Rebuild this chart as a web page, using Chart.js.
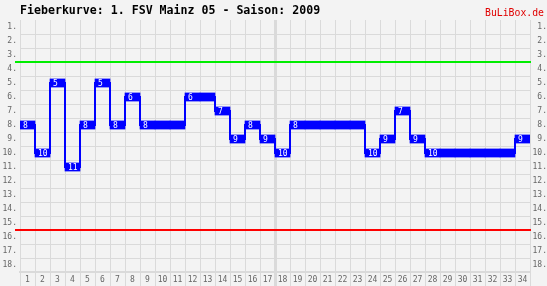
<!DOCTYPE html>
<html lang="de">
<head>
    <meta charset="UTF-8">
    <title>Fieberkurve 1. FSV Mainz 05</title>
    <style>
        body { margin: 0; background: #f3f3f3; }
        #wrap { width: 547px; height: 286px; }
    </style>
</head>
<body>
    <div id="wrap"><canvas id="myChart" width="547" height="286"></canvas></div>

    <script src="https://cdn.jsdelivr.net/npm/chart.js"></script>
    <script>
        // Spieltage und Tabellenplatz nach jedem Spieltag
        const spieltage = ['1','2','3','4','5','6','7','8','9','10','11','12','13','14','15','16','17',
                           '18','19','20','21','22','23','24','25','26','27','28','29','30','31','32','33','34'];
        const plaetze = [8,10,5,11,8,5,8,6,8,8,8,6,6,7,9,8,9,10,8,8,8,8,8,10,9,7,9,10,10,10,10,10,10,9];
        const platzLabels = ['1.','2.','3.','4.','5.','6.','7.','8.','9.','10.','11.','12.','13.','14.','15.','16.','17.','18.'];
        const grenzen = [3.5, 15.5];          // Europa / Abstieg
        const grenzFarben = ['#00ee00', '#ff0000'];
        const titel = 'Fieberkurve: 1. FSV Mainz 05 - Saison: 2009';

        const blau = '#0000ff';
        const gitter = '#dadada';
        const mono = '"DejaVu Sans Mono", monospace';

        const deko = {
            id: 'deko',
            beforeDatasetsDraw(chart) {
                const ctx = chart.ctx, area = chart.chartArea, y = chart.scales.y;
                ctx.save();
                grenzen.forEach((g, i) => {
                    const py = Math.round(y.getPixelForValue(g));
                    ctx.strokeStyle = grenzFarben[i];
                    ctx.lineWidth = 2;
                    ctx.beginPath();
                    ctx.moveTo(area.left - 5, py);
                    ctx.lineTo(area.right + 1, py);
                    ctx.stroke();
                });
                ctx.restore();
            },
            afterDatasetsDraw(chart) {
                const ctx = chart.ctx, x = chart.scales.x, y = chart.scales.y;
                const breite = x.getPixelForValue(1) - x.getPixelForValue(0);
                ctx.save();
                ctx.fillStyle = '#ffffff';
                ctx.font = '8px ' + mono;
                ctx.textBaseline = 'middle';
                plaetze.forEach((p, i) => {
                    if (i > 0 && plaetze[i - 1] === p) return;
                    ctx.fillText(String(p), x.getPixelForValue(i) - breite / 2 + 3, y.getPixelForValue(p) + 0.5);
                });
                // Titel und Logo
                ctx.textBaseline = 'alphabetic';
                ctx.fillStyle = '#000000';
                ctx.font = 'bold 11.6px ' + mono;
                ctx.fillText(titel, 20, 14);
                ctx.fillStyle = '#e00000';
                ctx.font = '9.8px ' + mono;
                ctx.textAlign = 'right';
                ctx.fillText('BuLiBox.de', 544, 16);
                ctx.restore();
            }
        };

        const ctx = document.getElementById('myChart').getContext('2d');
        new Chart(ctx, {
            data: {
                labels: spieltage,
                datasets: [
                    {
                        type: 'bar',
                        data: plaetze.map(p => [p - 0.29, p + 0.29]),
                        backgroundColor: blau,
                        barPercentage: 1,
                        categoryPercentage: 1,
                        yAxisID: 'y',
                        order: 0
                    },
                    {
                        type: 'line',
                        data: plaetze,
                        borderColor: blau,
                        borderWidth: 2,
                        pointRadius: 0,
                        stepped: 'middle',
                        yAxisID: 'y',
                        order: 1
                    }
                ]
            },
            options: {
                responsive: false,
                animation: false,
                layout: { padding: { top: 20, left: 0, right: 0, bottom: 0 } },
                plugins: { legend: { display: false }, tooltip: { enabled: false } },
                scales: {
                    x: {
                        type: 'category',
                        offset: true,
                        grid: {
                            offset: true,
                            color: gitter,
                            lineWidth: c => c.index === 17 ? 3 : 1,
                            tickLength: 14
                        },
                        border: { color: gitter, width: 2 },
                        ticks: { color: '#666', font: { family: mono, size: 8 }, padding: -11, maxRotation: 0, autoSkip: false },
                        afterFit: s => { s.height = 14; }
                    },
                    y: {
                        type: 'linear',
                        display: false,
                        min: 0.5,
                        max: 18.5,
                        reverse: true
                    },
                    yl: {
                        type: 'category',
                        position: 'left',
                        labels: platzLabels,
                        offset: true,
                        grid: {
                            offset: true,
                            color: c => c.index === 0 ? 'rgba(0,0,0,0)' : gitter,
                            drawTicks: false
                        },
                        border: { display: false },
                        ticks: { color: '#666', font: { family: mono, size: 8 }, padding: 3 },
                        afterFit: s => { s.width = 20; }
                    },
                    yr: {
                        type: 'category',
                        position: 'right',
                        labels: platzLabels,
                        offset: true,
                        grid: { display: false, drawTicks: false },
                        border: { display: false },
                        ticks: { color: '#666', font: { family: mono, size: 8 }, crossAlign: 'far', padding: 0 },
                        afterFit: s => { s.width = 17; }
                    }
                }
            },
            plugins: [deko]
        });
    </script>
</body>
</html>
